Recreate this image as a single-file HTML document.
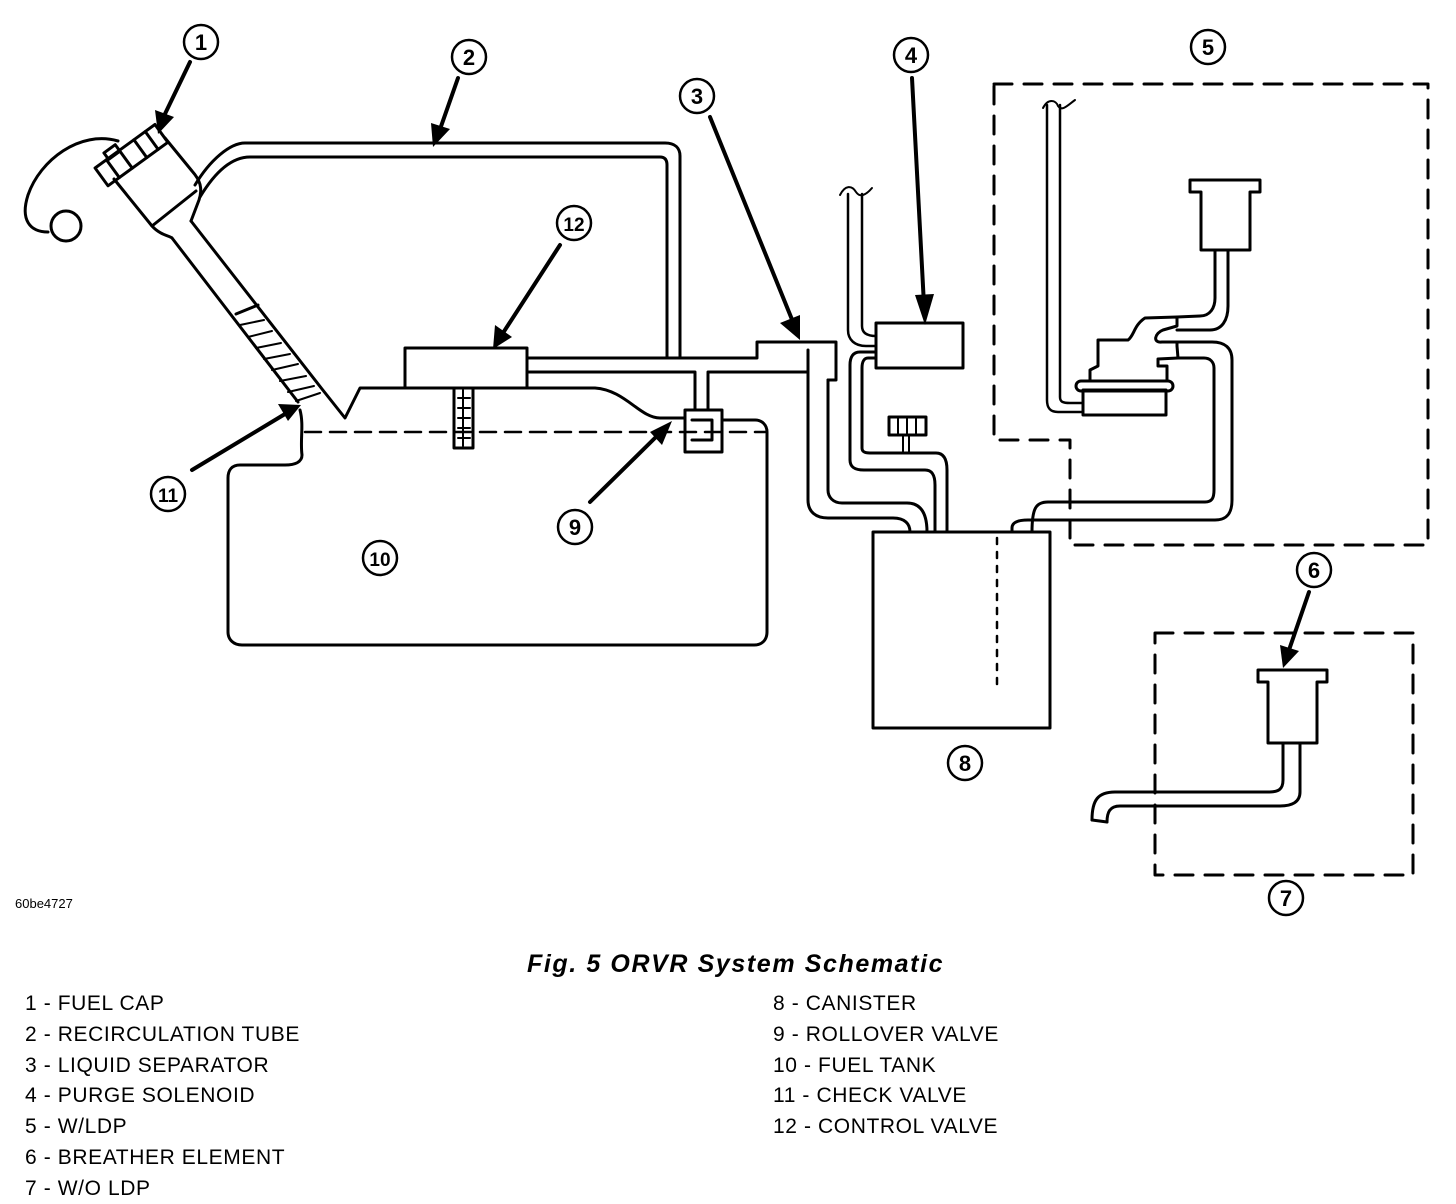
<!DOCTYPE html>
<html><head><style>
html,body{margin:0;padding:0;background:#fff;}
body{width:1456px;height:1204px;position:relative;overflow:hidden;font-family:"Liberation Sans",sans-serif;}
.t{position:absolute;font-size:21px;letter-spacing:0.6px;color:#000;white-space:nowrap;}
</style></head><body>
<svg width="1456" height="1204" style="position:absolute;left:0;top:0" xmlns="http://www.w3.org/2000/svg">
<g fill="none" stroke="#000" stroke-width="3" stroke-linejoin="round" stroke-linecap="round">
<g stroke-width="2.5">
<circle cx="201" cy="42" r="17"/><circle cx="469" cy="57" r="17"/><circle cx="697" cy="96" r="17"/>
<circle cx="911" cy="55" r="17"/><circle cx="1208" cy="47" r="17"/><circle cx="1314" cy="570" r="17"/>
<circle cx="1286" cy="898" r="17"/><circle cx="965" cy="763" r="17"/><circle cx="575" cy="527" r="17"/>
<circle cx="380" cy="558" r="17"/><circle cx="168" cy="494" r="17"/><circle cx="574" cy="223" r="17"/>
</g>
<g stroke-width="4">
<line x1="190" y1="62" x2="163" y2="118"/><line x1="458" y1="78" x2="438" y2="135"/>
<line x1="710" y1="117" x2="793" y2="322"/><line x1="912" y1="78" x2="924" y2="305"/>
<line x1="1309" y1="592" x2="1289" y2="650"/><line x1="590" y1="502" x2="660" y2="433"/>
<line x1="192" y1="470" x2="285" y2="414"/><line x1="560" y1="245" x2="503" y2="333"/>
</g>
<g fill="#000" stroke="none">
<polygon points="158,134 155,110 174,117"/><polygon points="433,147 431,123 450,129"/>
<polygon points="800,340 780,323 800,315"/><polygon points="925,325 915,295 934,294"/>
<polygon points="1283,668 1280,645 1299,651"/><polygon points="672,421 650,432 662,445"/>
<polygon points="301,405 278,404 288,421"/><polygon points="493,349 495,325 512,337"/>
</g>
<path d="M118,141 C80,130 40,160 28,195 C20,220 30,232 48,232"/>
<circle cx="66" cy="226" r="15"/>
<g transform="rotate(-36 135 160)">
<rect x="98" y="143" width="74" height="22"/>
<line x1="112" y1="143" x2="112" y2="165"/><line x1="128" y1="143" x2="128" y2="165"/><line x1="146" y1="143" x2="146" y2="165"/><line x1="160" y1="143" x2="160" y2="165"/>
<rect x="114" y="136" width="14" height="8"/>
</g>
<path d="M114,179 L152,226 C160,235 170,236 172,238"/>
<path d="M165,138 L192,171 C200,180 203,188 199,200 L191,221"/>
<path d="M152,226 L196,191"/>
<path d="M172,238 L298,402"/>
<path d="M191,221 L322,389 L345,418 L360,388 L405,388"/>
<path d="M236,314 L258,305"/>
<g stroke-width="2"><line x1="240" y1="325" x2="264" y2="320"/><line x1="248" y1="337" x2="272" y2="331"/><line x1="256" y1="348" x2="281" y2="343"/><line x1="264" y1="359" x2="290" y2="354"/><line x1="272" y1="370" x2="298" y2="364"/><line x1="280" y1="381" x2="306" y2="376"/><line x1="288" y1="392" x2="314" y2="386"/><line x1="296" y1="401" x2="320" y2="393"/></g>
<path d="M300,410 C304,425 300,440 302,455 C302,462 295,465 285,465 L240,465 C232,465 228,470 228,478 L228,632 C228,640 234,645 242,645 L754,645 C762,645 767,640 767,632 L767,432 C767,425 762,420 755,420 L722,420"/>
<path d="M527,388 L595,388 C625,390 640,418 660,418 L685,418"/>
<line x1="305" y1="432" x2="765" y2="432" stroke-dasharray="16,9" stroke-width="2.5"/>
<path d="M195,185 C210,160 230,143 245,143 L665,143 C675,143 680,148 680,156 L680,358"/>
<path d="M200,197 C215,172 232,157 250,157 L660,157 C665,157 667,160 667,165 L667,358"/>
<rect x="405" y="348" width="122" height="40"/>
<rect x="454" y="388" width="19" height="60"/>
<g stroke-width="2"><line x1="458" y1="398" x2="470" y2="398"/><line x1="458" y1="408" x2="470" y2="408"/><line x1="458" y1="418" x2="470" y2="418"/><line x1="458" y1="428" x2="470" y2="428"/><line x1="458" y1="438" x2="470" y2="438"/><line x1="463" y1="390" x2="463" y2="446"/></g>
<path d="M527,358 L757,358 L757,342 L836,342 L836,380 L828,380"/>
<path d="M527,372 L695,372 L695,410"/>
<path d="M708,410 L708,372 L808,372"/>
<path d="M685,410 L722,410 L722,452 L685,452 Z"/><path d="M692,420 L712,420 L712,440 L692,440"/>
<path d="M808,350 L808,500 C808,512 816,518 828,518 L893,518 C905,518 910,524 910,532"/>
<path d="M828,380 L828,490 C828,497 833,503 842,503 L907,503 C920,503 927,512 927,532"/>
<rect x="876" y="323" width="87" height="45"/>
<path d="M848,194 L848,330 C848,340 855,346 866,346 L876,346" stroke-width="2.5"/>
<path d="M862,194 L862,326 C862,332 866,336 876,336" stroke-width="2.5"/>
<path d="M840,195 C845,185 852,185 856,192 C860,198 866,195 872,188" stroke-width="2"/>
<path d="M876,352 L860,352 C853,352 850,357 850,365 L850,460 C850,468 856,470 864,470 L925,470 C932,470 935,475 935,485 L935,532"/>
<path d="M876,358 L868,358 C864,358 862,362 862,368 L862,448 C862,452 865,453 870,453 L936,453 C944,453 947,460 947,470 L947,532"/>
<rect x="889" y="417" width="37" height="18"/>
<line x1="898" y1="417" x2="898" y2="435" stroke-width="2"/><line x1="907" y1="417" x2="907" y2="435" stroke-width="2"/><line x1="916" y1="417" x2="916" y2="435" stroke-width="2"/>
<line x1="903" y1="435" x2="903" y2="453" stroke-width="2"/><line x1="909" y1="435" x2="909" y2="453" stroke-width="2"/>
<path d="M873,532 L1050,532 L1050,728 L873,728 Z"/>
<line x1="997" y1="538" x2="997" y2="692" stroke-dasharray="6,8" stroke-width="2.5"/>
<path d="M1012,532 L1012,528 C1012,522 1018,520 1028,520 L1215,520 C1228,520 1232,512 1232,500 L1232,360 C1232,348 1225,342 1212,342 L1177,342"/>
<path d="M1032,532 C1032,508 1036,502 1048,502 L1205,502 C1212,502 1214,498 1214,490 L1214,368 C1214,362 1210,358 1204,358 L1177,358"/>
<path d="M1047,105 L1047,400 C1047,408 1050,412 1058,412 L1083,412" stroke-width="2.5"/>
<path d="M1060,105 L1060,397 C1060,402 1063,403 1070,403 L1083,403" stroke-width="2.5"/>
<path d="M1043,108 C1048,98 1056,100 1058,106 C1062,112 1068,105 1075,100" stroke-width="2"/>
<rect x="1083" y="390" width="83" height="25"/>
<rect x="1076" y="381" width="97" height="10" rx="5"/>
<path d="M1090,381 L1090,370 L1098,366 L1098,340 L1128,340 C1134,336 1134,325 1145,318 L1177,317 L1177,326 L1163,330 C1155,333 1152,343 1162,342 L1177,342 L1177,346 L1178,358 L1158,359 L1158,366 L1167,366 L1167,381"/>
<path d="M1177,317 L1200,316 C1210,316 1215,308 1215,298 L1215,250"/>
<path d="M1177,330 L1210,330 C1222,330 1228,320 1228,306 L1228,250"/>
<path d="M1190,180 L1260,180 L1260,192 L1250,192 L1250,250 L1201,250 L1201,192 L1190,192 Z"/>
<path d="M994,84 L1428,84 L1428,545 L1070,545 L1070,440 L994,440 Z" stroke-dasharray="18,12"/>
<path d="M1155,633 L1413,633 L1413,875 L1155,875 Z" stroke-dasharray="18,12"/>
<path d="M1258,670 L1327,670 L1327,682 L1317,682 L1317,743 L1268,743 L1268,682 L1258,682 Z"/>
<path d="M1283,743 L1283,780 C1283,790 1278,792 1268,792 L1115,792 C1098,792 1092,800 1092,820"/>
<path d="M1300,743 L1300,792 C1300,802 1292,806 1280,806 L1120,806 C1110,806 1107,812 1107,822"/>
<line x1="1092" y1="820" x2="1107" y2="822"/>
</g>
<g font-family="Liberation Sans,sans-serif" font-size="22" text-anchor="middle" fill="#000" font-weight="bold">
<text x="201" y="50">1</text><text x="469" y="65">2</text><text x="697" y="104">3</text>
<text x="911" y="63">4</text><text x="1208" y="55">5</text><text x="1314" y="578">6</text>
<text x="1286" y="906">7</text><text x="965" y="771">8</text><text x="575" y="535">9</text>
<text x="380" y="566" font-size="19">10</text><text x="168" y="502" font-size="19">11</text><text x="574" y="231" font-size="19">12</text>
</g>
</svg>
<div class="t" style="left:15px;top:896px;font-size:13px;letter-spacing:0">60be4727</div>
<div class="t" style="left:527px;top:950px;font-size:25px;letter-spacing:1.6px;font-weight:bold;font-style:italic">Fig. 5 ORVR System Schematic</div>
<div class="t" style="left:25px;top:992px">1 - FUEL CAP</div>
<div class="t" style="left:25px;top:1023px">2 - RECIRCULATION TUBE</div>
<div class="t" style="left:25px;top:1054px">3 - LIQUID SEPARATOR</div>
<div class="t" style="left:25px;top:1084px">4 - PURGE SOLENOID</div>
<div class="t" style="left:25px;top:1115px">5 - W/LDP</div>
<div class="t" style="left:25px;top:1146px">6 - BREATHER ELEMENT</div>
<div class="t" style="left:25px;top:1177px">7 - W/O LDP</div>
<div class="t" style="left:773px;top:992px">8 - CANISTER</div>
<div class="t" style="left:773px;top:1023px">9 - ROLLOVER VALVE</div>
<div class="t" style="left:773px;top:1054px">10 - FUEL TANK</div>
<div class="t" style="left:773px;top:1084px">11 - CHECK VALVE</div>
<div class="t" style="left:773px;top:1115px">12 - CONTROL VALVE</div>
</body></html>
